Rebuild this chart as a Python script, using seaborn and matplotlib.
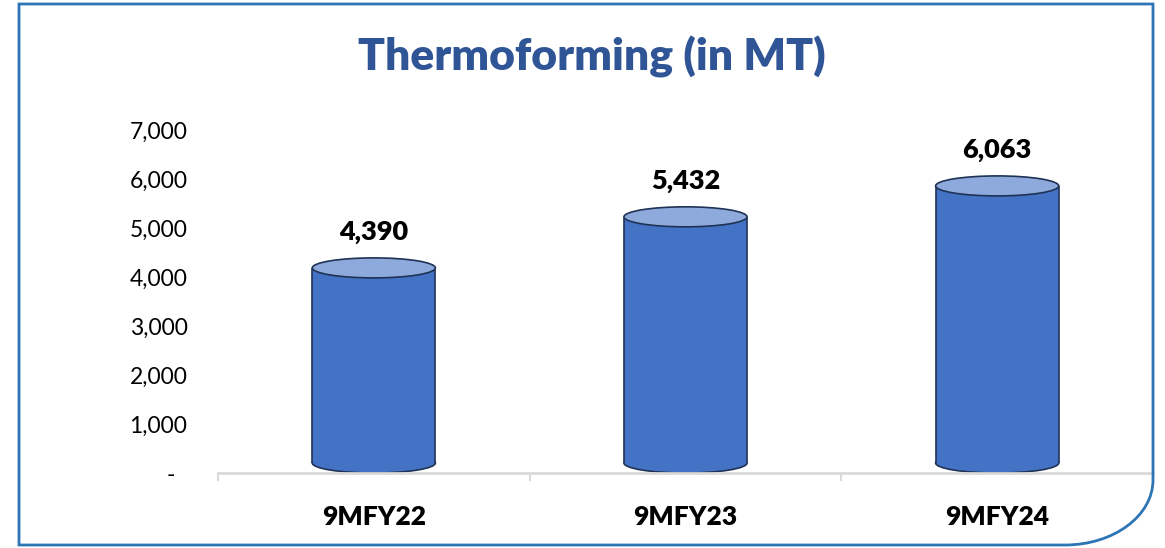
import matplotlib
matplotlib.use("Agg")
import matplotlib.pyplot as plt
import matplotlib.transforms as mtransforms
import seaborn as sns
import pandas as pd
from matplotlib.patches import Ellipse, PathPatch
from matplotlib.path import Path
from matplotlib.ticker import FixedLocator

categories = ["9MFY22", "9MFY23", "9MFY24"]
values = [4390, 5432, 6063]
value_labels = ["4,390", "5,432", "6,063"]
ytick_values = [0, 1000, 2000, 3000, 4000, 5000, 6000, 7000]
ytick_labels = ["-", "1,000", "2,000", "3,000", "4,000", "5,000", "6,000", "7,000"]
title = "Thermoforming (in MT)"

W, H = 1165, 548
sns.set_theme(style="white")
plt.rcParams["font.family"] = ["Lato", "DejaVu Sans"]

fig = plt.figure(figsize=(W / 100, H / 100), dpi=100)
ax = fig.add_axes([218 / W, 1 - 473 / H, (1153 - 218) / W, (473 - 130) / H])

df = pd.DataFrame({"cat": categories, "val": values})
body = "#4472C4"
topc = "#8EA9DB"
edge = "#1F3356"
sns.barplot(data=df, x="cat", y="val", color=body, width=0.395, ax=ax,
            saturation=1, linewidth=0, zorder=2)

ax.set_ylim(0, 7000)
ax.set_xlim(-0.5, 2.5)

px_per_unit = (473 - 130) / 7000
eh = 20 / px_per_unit

for p, v, lab in zip(ax.patches, values, value_labels):
    x0 = p.get_x()
    w = p.get_width()
    cx = x0 + w / 2
    p.set_y(eh / 2)
    p.set_height(v - eh)
    p.set_edgecolor("none")
    ax.add_patch(Ellipse((cx, eh / 2), w, eh, facecolor=body, edgecolor=edge,
                         linewidth=1.2, zorder=1.9))
    ax.plot([x0, x0], [eh / 2, v - eh / 2], color=edge, lw=1.2, zorder=2.1,
            solid_capstyle="butt")
    ax.plot([x0 + w, x0 + w], [eh / 2, v - eh / 2], color=edge, lw=1.2, zorder=2.1,
            solid_capstyle="butt")
    ax.add_patch(Ellipse((cx, v - eh / 2), w, eh, facecolor=topc, edgecolor=edge,
                         linewidth=1.2, zorder=2.2))
    ax.annotate(lab, (cx, v), xytext=(0, 13), textcoords="offset points",
                ha="center", va="baseline", fontsize=19.5, fontweight="heavy",
                color="black")

for s in ["top", "right", "left"]:
    ax.spines[s].set_visible(False)
ax.spines["bottom"].set_color("#D9D9D9")
ax.spines["bottom"].set_linewidth(2)

ax.set_yticks(ytick_values)
ax.set_yticklabels(ytick_labels, fontsize=16.5, color="black")
ax.tick_params(axis="y", length=0, pad=22)
dash = ax.get_yticklabels()[0]
dash.set_transform(dash.get_transform() +
                   mtransforms.ScaledTranslation(-12 / 100, 0, fig.dpi_scale_trans))
ax.set_xticks(range(len(categories)))
ax.set_xticklabels(categories, fontsize=19, fontweight="heavy", color="black")
ax.tick_params(axis="x", which="major", length=0, pad=23)
ax.xaxis.set_minor_locator(FixedLocator([-0.5, 0.5, 1.5, 2.5]))
ax.tick_params(axis="x", which="minor", length=6, width=1.5, color="#D9D9D9",
               bottom=True)
ax.set_xlabel("")
ax.set_ylabel("")
ax.grid(False)

fig.text(592 / W, 1 - 57 / H, title, ha="center", va="center", fontsize=32,
         fontweight="heavy", color="#2F5597")

def fx(x):
    return x / W
def fy(y):
    return 1 - y / H
k = 0.5523
cxr, cyr, rx, ry = 1065, 480, 88, 65
verts = [(fx(19), fy(4)), (fx(1153), fy(4)), (fx(1153), fy(cyr)),
         (fx(1153), fy(cyr + k * ry)), (fx(cxr + k * rx), fy(545)), (fx(cxr), fy(545)),
         (fx(19), fy(545)), (fx(19), fy(4))]
codes = [Path.MOVETO, Path.LINETO, Path.LINETO, Path.CURVE4, Path.CURVE4, Path.CURVE4,
         Path.LINETO, Path.CLOSEPOLY]
fig.patches.append(PathPatch(Path(verts, codes), transform=fig.transFigure,
                             facecolor="none", edgecolor="#2E75B6", linewidth=2))

fig.savefig("out.png", dpi=100)
